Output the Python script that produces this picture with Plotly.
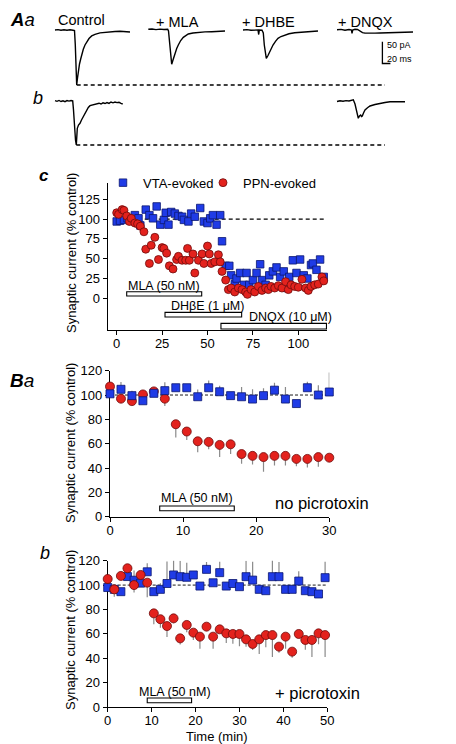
import plotly.graph_objects as go

W, H = 456, 744
OFF = 8  # page body margin in the browser
FONT = "Liberation Sans, Arial, Helvetica, sans-serif"
BLUE, BLUE_EDGE = "#1f3be6", "#0b1670"
RED, RED_EDGE = "#e3221d", "#6e0b0b"
ERR = "#8a8a8a"
CONTROL_LEVEL = 100


def px(x):
    return (x - OFF) / W


def py(y):
    return 1 - (y - OFF) / H


# ---------------- Panel A: example currents (time ms, current pA, relative) ----------------
ctrl_t = [0, 7.5, 15, 22.5, 30, 37.5, 45, 48.75, 50.75, 52.5, 54.25, 56.25, 58.25, 61.25, 64.25, 67.5,
          70.75, 75, 79.25, 85, 91.75, 100, 112.5, 125, 137.5, 150, 162.5, 175, 187.5]
ctrl_i = [0, 0.9, -0.7, 0.7, -0.5, 0.5, -0.5, -1.2, -34.5, -87.4, -126.5, -110.4, -92, -78.2, -66.7, -54.1,
          -44.4, -34.5, -27.1, -19.6, -13.6, -9.9, -6.7, -5.1, -4.1, -3.5, -2.8, -3.7, -4.6]

mla_t = [0, 9.25, 19.25, 29.25, 39.25, 48.5, 50.5, 53, 56, 58.5, 61.75, 66.75, 71, 75, 81, 87.5, 93.5,
         100, 111.75, 125, 141.75, 158.5, 174.25, 191.75]
mla_i = [0, 0.7, -0.7, 0.5, -0.5, 0, -3.9, -28.8, -61.4, -80.5, -70.6, -55.2, -44.2, -36.1, -25.8, -18.4,
         -14.3, -10.8, -8.5, -6.9, -6.0, -5.5, -4.4, -3.9]

dhbe_t = [0, 10, 20, 30, 37.5, 39.25, 40.75, 47.5, 50.75, 53.25, 55.75, 58.25, 62.5, 66.75, 70.75, 75,
          81.25, 87.5, 95, 104.25, 115, 129.25, 145, 162.5, 175, 187.5]
dhbe_i = [0, 0.9, -0.7, 0.5, 0, -10.4, 0, -0.5, -6.9, -34.5, -55.2, -65.1, -58.7, -49.9, -41.4, -34.5,
          -26.0, -19.1, -15.0, -11.5, -8.7, -6.2, -4.8, -3.9, -3.0, -2.3]

dnqx_t = [0, 10, 20, 30, 36.25, 37.5, 39.25, 45, 51.25, 57.5, 63.75, 70, 82.5, 95, 107.5, 120, 132.5,
          145, 157.5, 170, 182.5, 190]
dnqx_i = [0, 0.9, -0.9, 0.5, -0.5, -8.5, -0.5, 1.2, 0.7, -3.9, -6.4, -7.8, -8.3, -7.8, -7.4, -6.9, -6.4,
          -5.8, -6.0, -5.3, -5.5, -5.1]

bctrl_t = [0, 5, 10, 15, 20, 25, 30, 35, 40, 44.25, 46.25, 48.75, 51.25, 53.25, 55.75, 58.75, 62.5, 66.25,
           70.75, 75, 79.25, 83.25, 87.5, 92.5, 97.5, 104.25, 110, 115, 120, 125, 130, 135, 140, 145, 150,
           155, 160, 165, 169.25]
bctrl_i = [0.8, -0.8, 1.2, -1.2, 0.6, -1.4, 0.9, -0.3, 1.1, 0.3, -20.7, -62.1, -89.7, -101.2, -62.8,
           -55.2, -51.3, -43.7, -36.1, -27.6, -20.7, -15.0, -10.8, -9.2, -8.3, -6.9, -5.1, -6.9, -4.1,
           -5.8, -3.5, -5.5, -2.3, -4.1, -2.3, -3.7, -3.0, -5.3, -6.9]

bdnqx_t = [0, 7.5, 15, 22.5, 30, 35, 40.75, 45, 48.75, 53.25, 56.25, 59.25, 61.25, 63.25, 66.25, 70,
           76.25, 82.5, 95, 107.5, 120, 132.5, 145, 157.5, 170]
bdnqx_i = [-1.2, 0.5, -0.7, 0.9, 0, 1.2, 2.8, -6.9, -25.3, -39.8, -34.5, -32.2, -35.7, -34.5, -27.6,
           -20.7, -15.6, -11.5, -8.1, -5.3, -3.5, -1.6, -1.8, -1.2, -1.6]

# scale bar values
scale_pA = 50
scale_ms = 20

# ---------------- Panel c: time course of single experiment ----------------
c_vta_t = [0, 1.8, 4, 6, 8, 10, 12, 13, 16, 18, 20, 22, 24, 26, 27, 28.5, 30, 32, 34, 36, 37, 39.5, 41, 43,
           46, 48, 50, 51.5, 53, 55, 57, 58, 60, 62, 63, 65, 66, 68, 70, 71.5, 73, 75, 77, 79, 80, 82, 84,
           86, 88, 90, 92, 94, 95, 97, 99, 101, 103, 105, 107, 108, 110, 112, 114]
c_vta_v = [97, 98, 99, 101, 100, 105, 101, 92, 112, 105, 101, 116, 93, 99, 108, 93, 109, 107, 104, 103, 99,
           97, 107, 103, 114, 97, 95, 101, 105, 93, 105, 72, 41, 41, 29, 18, 25, 32, 17, 32, 17, 23, 32,
           43, 23, 17, 29, 34, 39, 27, 34, 13, 27, 48, 32, 49, 29, 25, 42, 44, 36, 49, 27]
c_ppn_t = [0, 1, 3, 4, 5.5, 7, 8, 10, 11.5, 13, 15, 16, 18, 19, 21, 23, 25, 26, 27.5, 29, 31, 33, 34, 36,
           38, 39, 40, 42, 43, 45, 47, 48, 50, 51, 52, 54, 56, 57, 58, 60, 61.5, 63, 65, 67, 69, 71, 72,
           74, 76, 78, 80, 82, 83.5, 85, 87, 89, 91, 93, 94.5, 96, 98, 100, 102, 104, 105.5, 107, 109,
           111, 113, 114]
c_ppn_v = [108, 106, 112, 111, 104, 97, 101, 95, 94, 91, 84, 62, 44, 67, 77, 49, 64, 63, 57, 41, 37, 49,
           53, 48, 48, 63, 48, 56, 32, 48, 56, 44, 66, 56, 44, 46, 55, 46, 34, 23, 11, 13, 8, 13, 11, 8,
           5, 11, 8, 15, 10, 13, 11, 15, 13, 16, 13, 21, 11, 17, 15, 14, 24, 13, 10, 15, 17, 18, 27, 22]
c_drugs = ["MLA (50 nM)", "DH\u03b2E (1 \u03bcM)", "DNQX (10 \u03bcM)"]
c_drug_on = [5.5, 26.6, 57.4]
c_drug_off = [46.8, 68.8, 115.5]

# ---------------- Panel Ba: no picrotoxin (mean, error) ----------------
ba_vta_t = [0, 1.5, 3, 4.5, 6, 7.5, 9, 10.5, 12, 13.5, 15, 16.5, 18, 19.5, 21, 22.5, 24, 25.5, 27, 28.5, 30]
ba_vta_v = [101, 104.7, 99.5, 95.3, 101.4, 103.6, 106, 106, 98.6, 106, 102.7, 99.5, 98.6, 96.7, 99.5, 104,
            96.7, 93, 106, 100, 102.5]
ba_vta_e = [0, 6, 4, 0, 3, 7, 0, 0, 6, 6, 5, 0, 8, 8, 6, 6, 10, 0, 5, 8, 16]
ba_ppn_t = [0, 1.5, 3, 4.5, 6, 7.5, 9, 10.5, 12, 13.5, 15, 16.5, 18, 19.5, 21, 22.5, 24, 25.5, 27, 28.5, 30]
ba_ppn_v = [107, 97, 95, 100.5, 103, 97, 76, 70, 62, 61.5, 59, 59.5, 51.5, 50, 49, 50, 50, 47.5, 47.5, 49,
            48.5]
ba_ppn_e = [0, 0, 3, 0, 0, 6, 11, 7, 9, 6, 10, 8, 8, 7, 12, 8, 8, 6, 7, 8, 0]
ba_drug = "MLA (50 nM)"
ba_drug_on, ba_drug_off = 6.8, 17.0

# ---------------- Panel Bb: + picrotoxin ----------------
bb_t = [0, 1.5, 3, 4.5, 6, 7.5, 9, 10.5, 12, 13.5, 15, 16.5, 18, 19.5, 21, 22.5, 24, 25.5, 27, 28.5, 30,
        31.5, 33, 34.5, 36, 37.5, 39, 40.5, 42, 43.5, 45, 46.5, 48, 49.5]
bb_vta_v = [98, 96.5, 94.6, 107, 104, 101.6, 110.9, 94.6, 96.5, 101.3, 108.3, 106.9, 106.4, 108.3, 99.2,
            112.9, 101.9, 110.2, 99.2, 101.3, 98.7, 106.9, 104.1, 96.5, 95.4, 106.9, 106.9, 96.5, 96.5,
            103.3, 95.4, 94.6, 92.7, 106.1]
bb_vta_e = [3, 4, 0, 0, 8, 4, 7, 0, 5, 18, 12, 13, 12, 2, 0, 6, 0, 9, 0, 3, 0, 13, 15, 0, 0, 14, 12, 0,
            4, 8, 0, 0, 0, 13]
bb_ppn_v = [105, 96.5, 107.5, 113.8, 100, 108.3, 102, 76.8, 72, 66.4, 72.7, 56.3, 67.3, 61, 57.7, 65.9,
            57.7, 63.7, 60.4, 59.9, 59.9, 55.5, 51.7, 55.5, 59, 59, 49.5, 57.7, 45.4, 59.9, 55, 55, 60.4, 59]
bb_ppn_e = [0, 6, 0, 0, 6, 0, 12, 9, 7, 9, 4, 5, 6, 6, 10, 0, 10, 0, 8, 8, 10, 6, 5, 12, 10, 18, 5, 10,
            5, 0, 8, 14, 9, 18]
bb_drug = "MLA (50 nM)"
bb_drug_on, bb_drug_off = 9.0, 19.1

# ================= figure =================
fig = go.Figure()

MS_PER_PX, PA_PER_PX = 2.5, 2.3

# --- Panel A placement (ms / pA offsets of each sweep) ---
A_traces = [
    (ctrl_t, ctrl_i, 137.5, -69.0),
    (mla_t, mla_i, 370.75, -67.4),
    (dhbe_t, dhbe_i, 607.5, -69.0),
    (dnqx_t, dnqx_i, 842.5, -68.5),
    (bctrl_t, bctrl_i, 137.5, -232.3),
    (bdnqx_t, bdnqx_i, 842.5, -232.3),
]
for t, i, t0, i0 in A_traces:
    fig.add_trace(go.Scatter(x=[t0 + v for v in t], y=[i0 + v for v in i], mode="lines",
                             line=dict(color="black", width=1.4), showlegend=False,
                             hoverinfo="skip", xaxis="x", yaxis="y"))

# dashed reference lines at control peak
dash_end = 962.5
for (t, i, t0, i0) in (A_traces[0], A_traces[4]):
    k = i.index(min(i))
    fig.add_trace(go.Scatter(x=[t0 + t[k], dash_end], y=[i0 + i[k]] * 2, mode="lines",
                             line=dict(color="black", width=1.3, dash="4px,3px"), showlegend=False,
                             hoverinfo="skip", xaxis="x", yaxis="y"))

# scale bar
sb_x, sb_y = 956.0, -146.0
fig.add_trace(go.Scatter(x=[sb_x, sb_x, sb_x + scale_ms], y=[sb_y + scale_pA, sb_y, sb_y], mode="lines",
                         line=dict(color="black", width=1.3), showlegend=False, hoverinfo="skip",
                         xaxis="x", yaxis="y"))

# --- Panel c ---
fig.add_trace(go.Scatter(x=c_vta_t, y=c_vta_v, mode="markers", name="VTA-evoked", legend="legend",
                         marker=dict(symbol="square", size=7.5, color=BLUE, line=dict(color=BLUE_EDGE, width=0.8)),
                         cliponaxis=False, xaxis="x2", yaxis="y2"))
fig.add_trace(go.Scatter(x=c_ppn_t, y=c_ppn_v, mode="markers", name="PPN-evoked", legend="legend2",
                         marker=dict(symbol="circle", size=8, color=RED, line=dict(color=RED_EDGE, width=0.8)),
                         cliponaxis=False, xaxis="x2", yaxis="y2"))

# --- Panel Ba ---
fig.add_trace(go.Scatter(x=ba_ppn_t, y=ba_ppn_v, mode="markers", showlegend=False,
                         error_y=dict(type="data", symmetric=False, array=[0] * len(ba_ppn_e),
                                      arrayminus=ba_ppn_e, color=ERR, thickness=1.2, width=0),
                         marker=dict(symbol="circle", size=9, color=RED, line=dict(color=RED_EDGE, width=0.8)),
                         cliponaxis=False, xaxis="x3", yaxis="y3"))
fig.add_trace(go.Scatter(x=ba_vta_t, y=ba_vta_v, mode="markers", showlegend=False,
                         error_y=dict(type="data", symmetric=False, array=ba_vta_e,
                                      arrayminus=[0] * len(ba_vta_e), color=ERR, thickness=1.2, width=0),
                         marker=dict(symbol="square", size=8, color=BLUE, line=dict(color=BLUE_EDGE, width=0.8)),
                         cliponaxis=False, xaxis="x3", yaxis="y3"))

# --- Panel Bb ---
fig.add_trace(go.Scatter(x=bb_t, y=bb_vta_v, mode="markers", showlegend=False,
                         error_y=dict(type="data", symmetric=False, array=bb_vta_e,
                                      arrayminus=[0] * len(bb_vta_e), color=ERR, thickness=1.2, width=0),
                         marker=dict(symbol="square", size=8, color=BLUE, line=dict(color=BLUE_EDGE, width=0.8)),
                         cliponaxis=False, xaxis="x4", yaxis="y4"))
fig.add_trace(go.Scatter(x=bb_t, y=bb_ppn_v, mode="markers", showlegend=False,
                         error_y=dict(type="data", symmetric=False, array=[0] * len(bb_ppn_e),
                                      arrayminus=bb_ppn_e, color=ERR, thickness=1.2, width=0),
                         marker=dict(symbol="circle", size=9, color=RED, line=dict(color=RED_EDGE, width=0.8)),
                         cliponaxis=False, xaxis="x4", yaxis="y4"))

shapes = []
# control-level dashed lines
for xr, yr, xmax, w, d in (("x2", "y2", 115.5, 1.2, "4px,3px"), ("x3", "y3", 30, 0.9, "3px,2px"),
                           ("x4", "y4", 50, 0.9, "3px,2px")):
    shapes.append(dict(type="line", xref=xr, yref=yr, x0=0, x1=xmax, y0=CONTROL_LEVEL, y1=CONTROL_LEVEL,
                       line=dict(color="black", width=w, dash=d), layer="below"))

annotations = []
# drug bars in c
c_bar_y = [(2.9, 8.3), (-23.6, -17.7), (-38.8, -31.6)]
c_lab_pos = [(25.9, 15.5), (50.2, -9.3), (95.9, -23.2)]
for name, on, off, (y0, y1), (lx, ly) in zip(c_drugs, c_drug_on, c_drug_off, c_bar_y, c_lab_pos):
    shapes.append(dict(type="rect", xref="x2", yref="y2", x0=on, x1=off, y0=y0, y1=y1,
                       fillcolor="white", line=dict(color="black", width=1.1)))
    annotations.append(dict(xref="x2", yref="y2", x=lx, y=ly, text=name, showarrow=False,
                            font=dict(size=12.5), xanchor="center", yanchor="middle"))

shapes.append(dict(type="rect", xref="x3", yref="y3", x0=ba_drug_on, x1=ba_drug_off, y0=4.9, y1=8.8,
                   fillcolor="white", line=dict(color="black", width=1.1)))
annotations.append(dict(xref="x3", yref="y3", x=11.9, y=15.6, text=ba_drug, showarrow=False,
                        font=dict(size=12.5), xanchor="center", yanchor="middle"))
shapes.append(dict(type="rect", xref="x4", yref="y4", x0=bb_drug_on, x1=bb_drug_off, y0=3.5, y1=7.4,
                   fillcolor="white", line=dict(color="black", width=1.1)))
annotations.append(dict(xref="x4", yref="y4", x=15.3, y=12.6, text=bb_drug, showarrow=False,
                        font=dict(size=12.5), xanchor="center", yanchor="middle"))


def label(x, y, text, size, anchor="left", angle=0):
    annotations.append(dict(xref="paper", yref="paper", x=px(x), y=py(y), text=text, showarrow=False,
                            font=dict(size=size), xanchor=anchor, yanchor="middle", textangle=angle))


label(8, 19.5, "<b><i>A</i></b><i>a</i>", 18.5)
label(56, 19.5, "Control", 14.5)
label(153.5, 21.5, "+ MLA", 14.5)
label(239.5, 21.5, "+ DHBE", 14.5)
label(336, 21.5, "+ DNQX", 14.5)
label(31, 98, "<i>b</i>", 18)
label(385, 44.5, "50 pA", 9)
label(385, 58.5, "20 ms", 9)
label(37, 175, "<b><i>c</i></b>", 17)
label(8, 380, "<b><i>B</i></b><i>a</i>", 19)
label(38, 553, "<i>b</i>", 18)
label(71, 253, "Synaptic current (% control)", 13, "center", -90)
label(70, 443, "Synaptic current (% control)", 13, "center", -90)
label(70, 630, "Synaptic current (% control)", 13, "center", -90)
label(273, 503, "no picrotoxin", 16.5)
label(273, 693, "+ picrotoxin", 16.5)
label(217, 736.5, "Time (min)", 13, "center")


def axis(dom, rng, tickvals=None, anchor=None, visible=True, standoff=0):
    d = dict(domain=dom, range=rng, showgrid=False, zeroline=False, fixedrange=True, automargin=False)
    if not visible:
        d.update(visible=False)
        return d
    d.update(showline=True, linecolor="black", linewidth=1.4, ticks="outside", ticklen=4, tickwidth=1.2,
             tickcolor="black", tickvals=tickvals, anchor=anchor, layer="below traces",
             tickfont=dict(size=13), ticklabelstandoff=standoff)
    return d


legend_style = dict(orientation="h", xanchor="left", yanchor="middle", font=dict(size=13),
                    bgcolor="rgba(0,0,0,0)", itemclick=False, tracegroupgap=0)

fig.update_layout(
    template="none",
    width=W, height=H, margin=dict(l=0, r=0, t=0, b=0, pad=0, autoexpand=False),
    paper_bgcolor="white", plot_bgcolor="rgba(0,0,0,0)",
    font=dict(family=FONT, size=13, color="black"),
    xaxis=axis([0, 1], [OFF * MS_PER_PX, (OFF + W) * MS_PER_PX], visible=False),
    yaxis=axis([py(160), 1], [-160 * PA_PER_PX, -OFF * PA_PER_PX], visible=False),
    xaxis2=axis([px(107.7), px(327)], [-4.96, 115.8], [0, 25, 50, 75, 100], "y2", standoff=-3),
    yaxis2=axis([py(330), py(183.3)], [-40, 145.2], [0, 25, 50, 75, 100, 125], "x2"),
    xaxis3=axis([px(110), px(329.3)], [0, 30], [0, 10, 20, 30], "y3", standoff=-3),
    yaxis3=axis([py(516.7), py(370.7)], [0, 120], [0, 20, 40, 60, 80, 100, 120], "x3"),
    xaxis4=axis([px(107.7), px(327.3)], [0, 50], [0, 10, 20, 30, 40, 50], "y4", standoff=-3),
    yaxis4=axis([py(707), py(560.7)], [0, 120], [0, 20, 40, 60, 80, 100, 120], "x4"),
    legend=dict(x=px(103), y=py(182.7), **legend_style),
    legend2=dict(x=px(203), y=py(182.7), **legend_style),
    shapes=shapes, annotations=annotations, showlegend=True,
)

fig.write_html("out.html")
